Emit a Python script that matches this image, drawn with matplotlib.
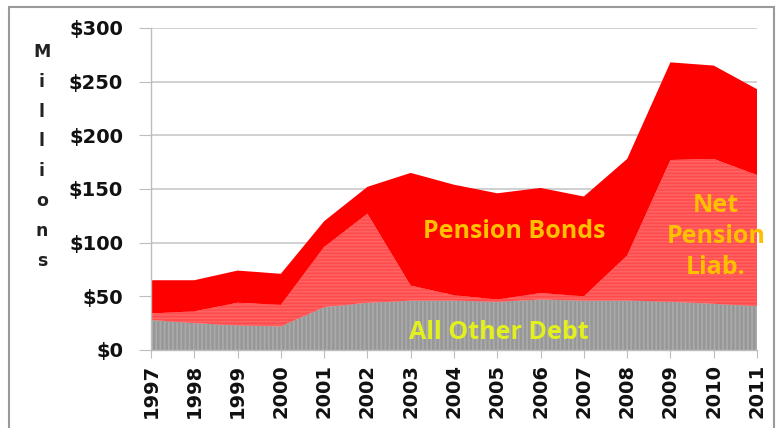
import matplotlib
matplotlib.use("Agg")
import matplotlib.pyplot as plt
from matplotlib.patches import Rectangle
from matplotlib.ticker import FuncFormatter, MultipleLocator

years = list(range(1997, 2012))
other_debt = [28, 25, 23, 22, 40, 44, 46, 46, 45, 47, 46, 46, 45, 43, 41]
net_pension = [6, 11, 21, 20, 56, 83, 14, 5, 2, 6, 4, 42, 132, 135, 122]
pension_bonds = [31, 29, 30, 29, 24, 25, 105, 103, 99, 98, 93, 90, 91, 87, 80]
series_names = ["All Other Debt", "Net\nPension\nLiab.", "Pension Bonds"]
ylabel_text = "Millions"

TICKFONT = ["DejaVu Sans"]
LABFONT = ["Open Sans", "DejaVu Sans"]
plt.rcParams["font.family"] = ["DejaVu Sans"]
plt.rcParams["hatch.linewidth"] = 1.2

fig = plt.figure(figsize=(7.77, 4.28), dpi=100)
ax = fig.add_axes([151/777, 78/428, 606/777, 322/428])

polys = ax.stackplot(years, other_debt, net_pension, pension_bonds,
                     colors=["#979797", "#ff4b4b", "#ff0000"], zorder=2)
polys[0].set_hatch("||||")
polys[0].set_edgecolor("#ababab")
polys[0].set_linewidth(0)
polys[1].set_hatch("-----")
polys[1].set_edgecolor("#ff6363")
polys[1].set_linewidth(0)
polys[2].set_linewidth(0)

ax.set_xlim(1997, 2011)
ax.set_ylim(0, 300)
ax.yaxis.set_major_locator(MultipleLocator(50))
ax.yaxis.set_major_formatter(FuncFormatter(lambda v, p: f"${int(v)}"))
ax.set_xticks(years)
ax.set_xticklabels([str(y) for y in years], rotation=90)

ax.grid(axis="y", color="#c8c8c8", linewidth=1.2, zorder=0)
ax.set_axisbelow(True)
for s in ["top", "right"]:
    ax.spines[s].set_visible(False)
for s in ["left", "bottom"]:
    ax.spines[s].set_color("#bdbdbd")
    ax.spines[s].set_linewidth(1.0)
ax.tick_params(axis="y", length=9, color="#bdbdbd", pad=11, labelsize=14)
ax.tick_params(axis="x", length=6, color="#bdbdbd", pad=4, labelsize=14)
for lab in ax.get_xticklabels() + ax.get_yticklabels():
    lab.set_fontweight("bold")
    lab.set_family(TICKFONT)
    lab.set_color("#111111")

ax.text(2005.4, 110, series_names[2], color="#ffc000", fontsize=18,
        fontweight="bold", ha="center", va="center", zorder=5, family=LABFONT)
ax.text(2010.05, 106, series_names[1], color="#ffc000", fontsize=18,
        fontweight="bold", ha="center", va="center", zorder=5,
        linespacing=1.32, family=LABFONT)
ax.text(2005.04, 16, series_names[0], color="#e2f01e", fontsize=18,
        fontweight="bold", ha="center", va="center", zorder=5, family=LABFONT)

# vertical stacked y-axis label
y0 = 428 - 52
for i, ch in enumerate(ylabel_text):
    fig.text(42/777, (y0 - i*29.8)/428, ch, fontsize=12.5, fontweight="bold",
             ha="center", va="center", color="#222222", family=TICKFONT)

# chart-area border
fig.patches.append(Rectangle((9/777, -0.05), (774-9)/777, (428-7)/428 + 0.05,
                             transform=fig.transFigure, fill=False,
                             edgecolor="#9a9a9a", linewidth=1.5))

fig.savefig("out.png", dpi=100)
